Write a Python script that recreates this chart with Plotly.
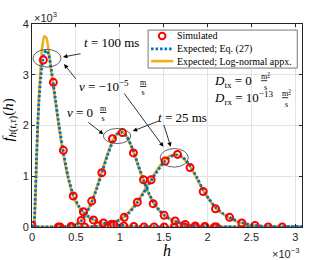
import plotly.graph_objects as go

# ---- data (h in units of 1e-3, f in units of 1e3, as shown on the axes) ----
h1_line = [0, 0.02, 0.035, 0.05, 0.065, 0.08, 0.10, 0.12, 0.14, 0.165, 0.19, 0.22, 0.26, 0.31, 0.36,
           0.41, 0.47, 0.53, 0.59, 0.65, 0.72, 0.82, 0.93, 1.05, 1.2, 1.4, 1.7, 2.1, 3.08]
f1_eq27 = [0, 0.05, 0.5, 1.3, 2.0, 2.5, 2.95, 3.25, 3.43, 3.48, 3.4, 3.1, 2.6, 1.98, 1.45,
           1.0, 0.63, 0.42, 0.29, 0.2, 0.14, 0.08, 0.05, 0.03, 0.015, 0.005, 0, 0, 0]
f1_logn = [0, 0.02, 0.35, 1.15, 1.95, 2.6, 3.2, 3.6, 3.76, 3.72, 3.47, 3.05, 2.55, 1.93, 1.4,
           0.97, 0.6, 0.4, 0.27, 0.18, 0.12, 0.07, 0.04, 0.02, 0.01, 0.003, 0, 0, 0]

h2_line = [0, 0.3, 0.4, 0.5, 0.56, 0.62, 0.68, 0.74, 0.80, 0.86, 0.92, 0.98, 1.03, 1.08, 1.15, 1.21,
           1.27, 1.33, 1.39, 1.45, 1.51, 1.58, 1.65, 1.72, 1.8, 1.9, 2.0, 2.1, 3.08]
f2_eq27 = [0, 0, 0.01, 0.05, 0.12, 0.27, 0.49, 0.77, 1.09, 1.41, 1.68, 1.84, 1.86, 1.78, 1.52, 1.22,
           0.93, 0.67, 0.47, 0.33, 0.23, 0.15, 0.1, 0.065, 0.035, 0.015, 0.005, 0, 0]
f2_logn = [0, 0, 0.01, 0.05, 0.13, 0.28, 0.5, 0.79, 1.12, 1.44, 1.71, 1.87, 1.88, 1.78, 1.5, 1.2,
           0.91, 0.65, 0.46, 0.32, 0.22, 0.15, 0.1, 0.06, 0.03, 0.012, 0.004, 0, 0]

h3_line = [0, 0.6, 0.75, 0.9, 1.0, 1.1, 1.2, 1.3, 1.4, 1.5, 1.58, 1.65, 1.72, 1.8, 1.88, 1.95,
           2.02, 2.1, 2.18, 2.25, 2.35, 2.45, 2.55, 2.7, 2.85, 3.08]
f3_eq27 = [0, 0, 0.02, 0.07, 0.14, 0.27, 0.48, 0.75, 1.03, 1.27, 1.39, 1.42, 1.37, 1.21, 0.97, 0.73,
           0.54, 0.37, 0.26, 0.19, 0.11, 0.06, 0.03, 0.008, 0.002, 0]
f3_logn = [0, 0, 0.02, 0.08, 0.15, 0.29, 0.5, 0.78, 1.06, 1.3, 1.41, 1.42, 1.36, 1.19, 0.95, 0.72,
           0.53, 0.36, 0.25, 0.17, 0.1, 0.05, 0.025, 0.006, 0.001, 0]

s1_h = [0, 0.129, 0.243, 0.357, 0.47, 0.585, 0.70, 0.815, 0.93, 1.045, 1.16, 1.275, 1.39, 1.505,
        1.62, 1.735, 1.85, 1.965, 2.08]
s1_f = [0.03, 3.29, 2.85, 1.51, 0.61, 0.30, 0.14, 0.08, 0.05, 0.02, 0.01, 0, 0, 0, 0, 0, 0, 0, 0]
s2_h = [0.32, 0.445, 0.56, 0.68, 0.795, 0.916, 1.03, 1.155, 1.27, 1.38, 1.505, 1.63, 1.745, 1.86, 1.97, 2.10]
s2_f = [0, 0.01, 0.13, 0.51, 1.07, 1.74, 1.86, 1.46, 0.93, 0.46, 0.23, 0.12, 0.05, 0.02, 0.01, 0]
s3_h = [0.3, 0.45, 0.6, 0.75, 0.9, 1.05, 1.2, 1.357, 1.517, 1.657, 1.80, 1.95, 2.09, 2.25, 2.39, 2.54, 2.69, 2.85]
s3_f = [0, 0, 0, 0.02, 0.05, 0.19, 0.49, 0.93, 1.30, 1.43, 1.17, 0.70, 0.36, 0.19, 0.08, 0.03, 0, 0]

x_ticks = [0, 0.5, 1, 1.5, 2, 2.5, 3]
y_ticks = [0, 1, 2, 3, 4]
legend_names = ["Simulated", "Expected; Eq. (27)", "Expected; Log-normal appx."]

BLUE = "#0072BD"
YELLOW = "#EDB120"
RED = "#FF0000"
SERIF = "Liberation Serif, DejaVu Serif, serif"
SANS = "Liberation Sans, Arial, sans-serif"
DARK = "#262626"
BLUE_DASH = "2.5px,2px"


def join(*parts):
    out = []
    for i, p in enumerate(parts):
        if i:
            out.append(None)
        out.extend(p)
    return out


fig = go.Figure()

fig.add_trace(go.Scatter(
    x=join(h1_line, h2_line, h3_line), y=join(f1_logn, f2_logn, f3_logn),
    mode="lines", line=dict(color=YELLOW, width=2.6, shape="spline", smoothing=0.6),
    name=legend_names[2], showlegend=False, connectgaps=False))
fig.add_trace(go.Scatter(
    x=join(h1_line, h2_line, h3_line), y=join(f1_eq27, f2_eq27, f3_eq27),
    mode="lines", line=dict(color=BLUE, width=2.8, dash=BLUE_DASH, shape="spline", smoothing=0.6),
    name=legend_names[1], showlegend=False, connectgaps=False))
fig.add_trace(go.Scatter(
    x=s1_h + s2_h + s3_h, y=s1_f + s2_f + s3_f,
    mode="markers", marker=dict(symbol="circle-open", size=7, color=RED, line=dict(width=2, color=RED)),
    name=legend_names[0], showlegend=False))

# ellipses around the peaks
ell = [(0.011, 0.33, 3.15, 3.50), (0.813, 1.125, 1.645, 1.94), (1.46, 1.78, 1.18, 1.546)]
for x0, x1, y0, y1 in ell:
    fig.add_shape(type="circle", xref="x", yref="y", x0=x0, x1=x1, y0=y0, y1=y1,
                  line=dict(color="#3a3a3a", width=0.8))

# arrows: (head_x, head_y, tail_x, tail_y)
arrows = [(0.353, 3.35, 0.570, 3.42), (0.365, 3.21, 0.513, 2.89), (1.497, 1.58, 1.038, 2.66),
          (0.813, 1.83, 0.624, 2.085), (1.148, 1.89, 1.46, 2.10), (1.58, 1.58, 1.497, 2.04)]
for hx, hy, tx, ty in arrows:
    fig.add_annotation(x=hx, y=hy, ax=tx, ay=ty, xref="x", yref="y", axref="x", ayref="y",
                       text="", showarrow=True, arrowhead=2, arrowsize=1.1, arrowwidth=0.8,
                       arrowcolor="black", standoff=0, startstandoff=0)

tf = dict(family=SERIF, size=13, color="black")
ff = dict(family=SERIF, size=8, color="black")


def label(x, y, text, anchor="center", font=tf):
    fig.add_annotation(x=x, y=y, xref="x", yref="y", text=text, showarrow=False,
                       xanchor=anchor, yanchor="middle", font=font)


def frac(x, y, num):
    fig.add_annotation(x=x, y=y, xref="x", yref="y", text=f"<u>{num}</u><br>s", showarrow=False,
                       xanchor="center", yanchor="middle", font=ff, align="center")


label(0.901, 3.643, "<i>t</i> = 100 ms")
label(1.129, 2.775, "<i>v</i> = −10<sup>−5</sup>", anchor="right")
frac(1.266, 2.755, "m")
label(0.718, 2.249, "<i>v</i> = 0", anchor="right")
frac(0.813, 2.243, "m")
label(1.716, 2.164, "<i>t</i> = 25 ms")
label(2.049, 2.86, "<i>D</i><sub>tx</sub> = 0", anchor="left")
frac(2.657, 2.87, "m<sup>2</sup>")
label(2.049, 2.55, "<i>D</i><sub>rx</sub> = 10<sup>−13</sup>", anchor="left")
frac(2.893, 2.54, "m<sup>2</sup>")

# ---- legend box (drawn in paper coordinates, MATLAB-style compact rows) ----
fig.add_shape(type="rect", xref="paper", yref="paper", x0=0.430, x1=0.9826, y0=0.783, y1=0.970,
              fillcolor="white", line=dict(color="#555", width=0.8), layer="above")
rows_y = [0.941, 0.877, 0.817]
fig.add_shape(type="circle", xref="paper", yref="paper", xsizemode="pixel", ysizemode="pixel",
              xanchor=0.482, yanchor=rows_y[0], x0=-3.3, x1=3.3, y0=-3.3, y1=3.3,
              line=dict(color=RED, width=2), layer="above")
fig.add_shape(type="line", xref="paper", yref="paper", x0=0.441, x1=0.523, y0=rows_y[1], y1=rows_y[1],
              line=dict(color=BLUE, width=2.8, dash=BLUE_DASH), layer="above")
fig.add_shape(type="line", xref="paper", yref="paper", x0=0.441, x1=0.523, y0=rows_y[2], y1=rows_y[2],
              line=dict(color=YELLOW, width=2.6), layer="above")
for name, ry in zip(legend_names, rows_y):
    fig.add_annotation(xref="paper", yref="paper", x=0.528, y=ry, xanchor="left", yanchor="middle",
                       text=name, showarrow=False, font=dict(family=SERIF, size=10, color="black"))

# exponent labels and axis titles
fig.add_annotation(xref="paper", yref="paper", x=0.0, y=1.035, xanchor="left", yanchor="middle",
                   text="×10<sup>3</sup>", showarrow=False, font=dict(family=SANS, size=11, color=DARK))
fig.add_annotation(xref="paper", yref="paper", x=0.997, y=-0.127, xanchor="right", yanchor="middle",
                   text="×10<sup>−3</sup>", showarrow=False, font=dict(family=SANS, size=11, color=DARK))
fig.add_annotation(xref="paper", yref="paper", x=0.5, y=-0.115, xanchor="center", yanchor="middle",
                   text="<i>h</i>", showarrow=False, font=dict(family=SERIF, size=16, color="black"))
fig.add_annotation(xref="paper", yref="paper", x=-0.085, y=0.525, xanchor="center", yanchor="middle",
                   textangle=-90, showarrow=False, font=dict(family=SERIF, size=15, color="black"),
                   text="<i>f</i><sub><i>h</i>(<i>t</i>,<i>τ</i>)</sub>(<i>h</i>)")

axis_common = dict(showline=True, linecolor=DARK, linewidth=0.8, mirror="ticks", ticks="inside",
                   ticklen=3, tickcolor=DARK, tickwidth=0.8, showgrid=True, gridcolor="#e3e3e3",
                   gridwidth=0.7, zeroline=False, tickfont=dict(family=SANS, size=11, color=DARK))

fig.update_layout(
    width=321, height=260, margin=dict(l=32, r=19, t=24, b=33),
    plot_bgcolor="white", paper_bgcolor="white",
    xaxis=dict(range=[0, 3.075], tickvals=x_ticks, **axis_common),
    yaxis=dict(range=[0, 4], tickvals=y_ticks, **axis_common),
    showlegend=False,
)

# remove the browser's default 8px body margin so the figure fills the 321x260 window
fig.write_html("out.html", config={"displayModeBar": False},
               post_script="document.body.style.margin='0';document.body.style.overflow='hidden';")
